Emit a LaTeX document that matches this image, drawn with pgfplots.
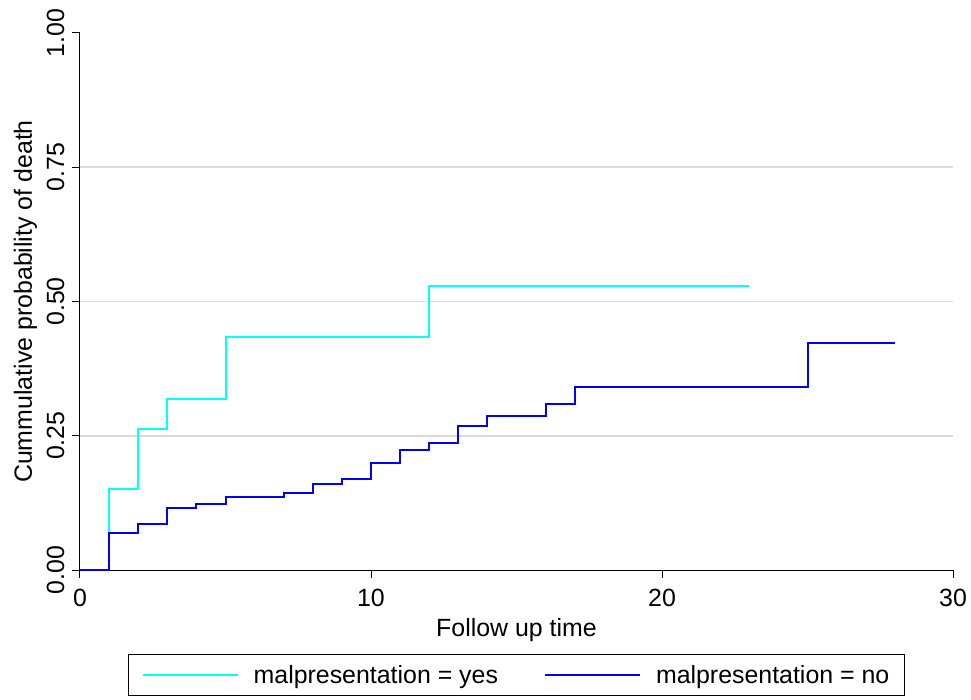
\documentclass[border=0pt]{standalone}
\usepackage{fontspec}
\setmainfont{Liberation Sans}
\usepackage{pgfplots}
\pgfplotsset{compat=1.18}
\definecolor{kmcyan}{RGB}{0,255,255}
\definecolor{kmblue}{RGB}{0,0,255}
\definecolor{gridgray}{RGB}{218,218,218}
\begin{document}
\begin{tikzpicture}[font=\fontsize{25}{30}\selectfont]
\begin{axis}[
  name=ax,
  scale only axis, width=873bp, height=537bp,
  xmin=0, xmax=30, ymin=0, ymax=1,
  axis x line*=bottom, axis y line*=left,
  axis line style={black, line width=1bp},
  tick align=outside,
  major tick length=8bp,
  tick style={black, line width=1bp},
  /pgf/number format/assume math mode=true,
  xtick={0,10,20,30},
  ytick={0,1},
  yticklabels={0.00,1.00},
  extra y ticks={0.25,0.5,0.75},
  extra y tick labels={0.25,0.50,0.75},
  extra y tick style={grid=major},
  grid style={gridgray, line width=1.6bp},
  yticklabel style={rotate=90, anchor=south, yshift=4bp},
  xticklabel style={yshift=-8bp},
  xlabel={Follow up time},
  ylabel={Cummulative probability of death},
  xlabel style={yshift=-4bp},
  ylabel style={yshift=-13bp},
  legend columns=2,
  legend style={at={(0.5,-0.156)}, anchor=north, draw=black, line width=0.8bp,
    font=\fontsize{25}{30}\selectfont, inner xsep=13bp, inner ysep=9bp,
    /tikz/every odd column/.append style={column sep=13bp},
    /tikz/every even column/.append style={column sep=44bp}},
  legend image code/.code={\draw[#1, line width=2bp] (0bp,0bp) -- (95bp,0bp);},
]
\addplot[const plot, kmcyan, line width=2bp] coordinates {
  (0,0) (1,0.150) (2,0.263) (3,0.319) (5,0.434) (12,0.529) (23,0.529)
};
\addlegendentry{malpresentation = yes}
\addplot[const plot, kmblue, line width=2bp] coordinates {
  (0,0) (1,0.068) (2,0.086) (3,0.116) (4,0.122) (5,0.136) (7,0.143)
  (8,0.160) (9,0.169) (10,0.199) (11,0.223) (12,0.237) (13,0.268)
  (14,0.287) (16,0.310) (17,0.341) (25,0.423) (28,0.423)
};
\addlegendentry{malpresentation = no}
\end{axis}
\pgfresetboundingbox
\path[use as bounding box] ([xshift=-80bp,yshift=-130bp]ax.south west) rectangle ([xshift=18bp,yshift=33bp]ax.north east);
\end{tikzpicture}
\end{document}
